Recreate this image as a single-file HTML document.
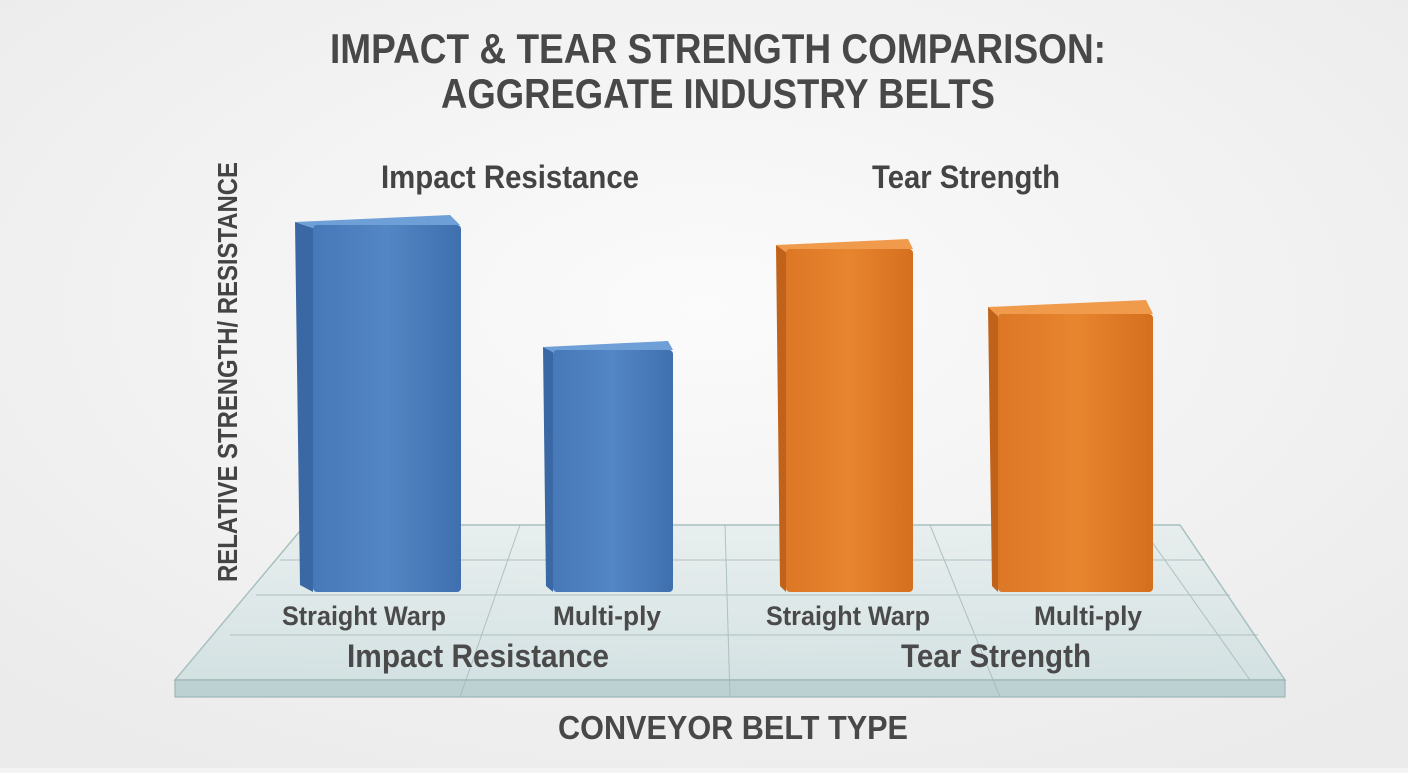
<!DOCTYPE html>
<html><head><meta charset="utf-8"><style>
html,body{margin:0;padding:0;}
body{width:1408px;height:768px;overflow:hidden;background:#f3f3f3;}
svg text{font-family:"Liberation Sans",sans-serif;font-weight:bold;}
</style></head><body>
<svg width="1408" height="768" viewBox="0 0 1408 768" xmlns="http://www.w3.org/2000/svg">
<defs>
<radialGradient id="bg" cx="50%" cy="40%" r="70%">
<stop offset="0" stop-color="#fbfbfb"/><stop offset="1" stop-color="#ebebeb"/></radialGradient>
<linearGradient id="bf" x1="0" x2="1"><stop offset="0" stop-color="#4778b8"/><stop offset="0.5" stop-color="#5386c4"/><stop offset="1" stop-color="#3f6fae"/></linearGradient>
<linearGradient id="of" x1="0" x2="1"><stop offset="0" stop-color="#dc7726"/><stop offset="0.5" stop-color="#e8852f"/><stop offset="1" stop-color="#d46f1e"/></linearGradient>
<linearGradient id="gl" x1="0" y1="0" x2="0" y2="1"><stop offset="0" stop-color="#e3ecec" stop-opacity="0.7"/><stop offset="1" stop-color="#cfdfe0" stop-opacity="0.85"/></linearGradient>
</defs>
<rect width="1408" height="768" fill="url(#bg)"/>
<text x="718" y="63" text-anchor="middle" font-size="42" fill="#484848" textLength="776" lengthAdjust="spacingAndGlyphs">IMPACT &amp; TEAR STRENGTH COMPARISON:</text>
<text x="718" y="108" text-anchor="middle" font-size="42" fill="#484848" textLength="554" lengthAdjust="spacingAndGlyphs">AGGREGATE INDUSTRY BELTS</text>
<text x="510" y="188" text-anchor="middle" font-size="32" fill="#444" textLength="258" lengthAdjust="spacingAndGlyphs">Impact Resistance</text>
<text x="966" y="188" text-anchor="middle" font-size="32" fill="#444" textLength="188" lengthAdjust="spacingAndGlyphs">Tear Strength</text>
<text transform="translate(237,372) rotate(-90)" text-anchor="middle" font-size="28" fill="#444" textLength="420" lengthAdjust="spacingAndGlyphs">RELATIVE STRENGTH/ RESISTANCE</text>
<polygon points="305,525 1180,525 1285,680 175,680" fill="url(#gl)" stroke="#a9c0c0" stroke-width="1.5"/>
<rect x="175" y="680" width="1110" height="17" fill="#bcd2d2" stroke="#93aeae"/>
<g stroke="#a2b7b8" stroke-width="1" fill="none" opacity="0.8">
<line x1="280" y1="560" x2="1205" y2="560"/><line x1="256" y1="595" x2="1230" y2="595"/><line x1="230" y1="635" x2="1258" y2="635"/>
<line x1="520" y1="525" x2="460" y2="697"/><line x1="725" y1="525" x2="730" y2="697"/><line x1="930" y1="525" x2="1000" y2="697"/><line x1="1140" y1="525" x2="1250" y2="680"/>
</g>
<g>
<polygon points="295,222 313,228 313,592 300,585" fill="#3a68a4"/>
<polygon points="295,222 450,215 460,225 313,228" fill="#6e9fd6"/>
<rect x="313" y="225" width="148" height="367" rx="4" fill="url(#bf)"/>
<polygon points="543,347 553,352 553,592 546,586" fill="#3a68a4"/>
<polygon points="543,347 668,341 673,350 553,352" fill="#6e9fd6"/>
<rect x="553" y="350" width="120" height="242" rx="4" fill="url(#bf)"/>
<polygon points="776,245 786,252 786,592 780,586" fill="#c0621a"/>
<polygon points="776,245 908,239 913,249 786,252" fill="#f09a4c"/>
<rect x="786" y="249" width="127" height="343" rx="4" fill="url(#of)"/>
<polygon points="988,307 998,316 998,592 992,586" fill="#c0621a"/>
<polygon points="988,307 1146,300 1153,314 998,316" fill="#f09a4c"/>
<rect x="998" y="314" width="155" height="278" rx="4" fill="url(#of)"/>
</g>
<g fill="#4a4a4a" font-size="27">
<text x="364" y="625" text-anchor="middle" textLength="164" lengthAdjust="spacingAndGlyphs">Straight Warp</text>
<text x="607" y="625" text-anchor="middle" textLength="108" lengthAdjust="spacingAndGlyphs">Multi-ply</text>
<text x="848" y="625" text-anchor="middle" textLength="164" lengthAdjust="spacingAndGlyphs">Straight Warp</text>
<text x="1088" y="625" text-anchor="middle" textLength="108" lengthAdjust="spacingAndGlyphs">Multi-ply</text>
<text x="478" y="667" text-anchor="middle" font-size="32" textLength="262" lengthAdjust="spacingAndGlyphs">Impact Resistance</text>
<text x="996" y="667" text-anchor="middle" font-size="32" textLength="190" lengthAdjust="spacingAndGlyphs">Tear Strength</text>
</g>
<text x="733" y="739" text-anchor="middle" font-size="33" fill="#484848" textLength="350" lengthAdjust="spacingAndGlyphs">CONVEYOR BELT TYPE</text>
</svg>
</body></html>
